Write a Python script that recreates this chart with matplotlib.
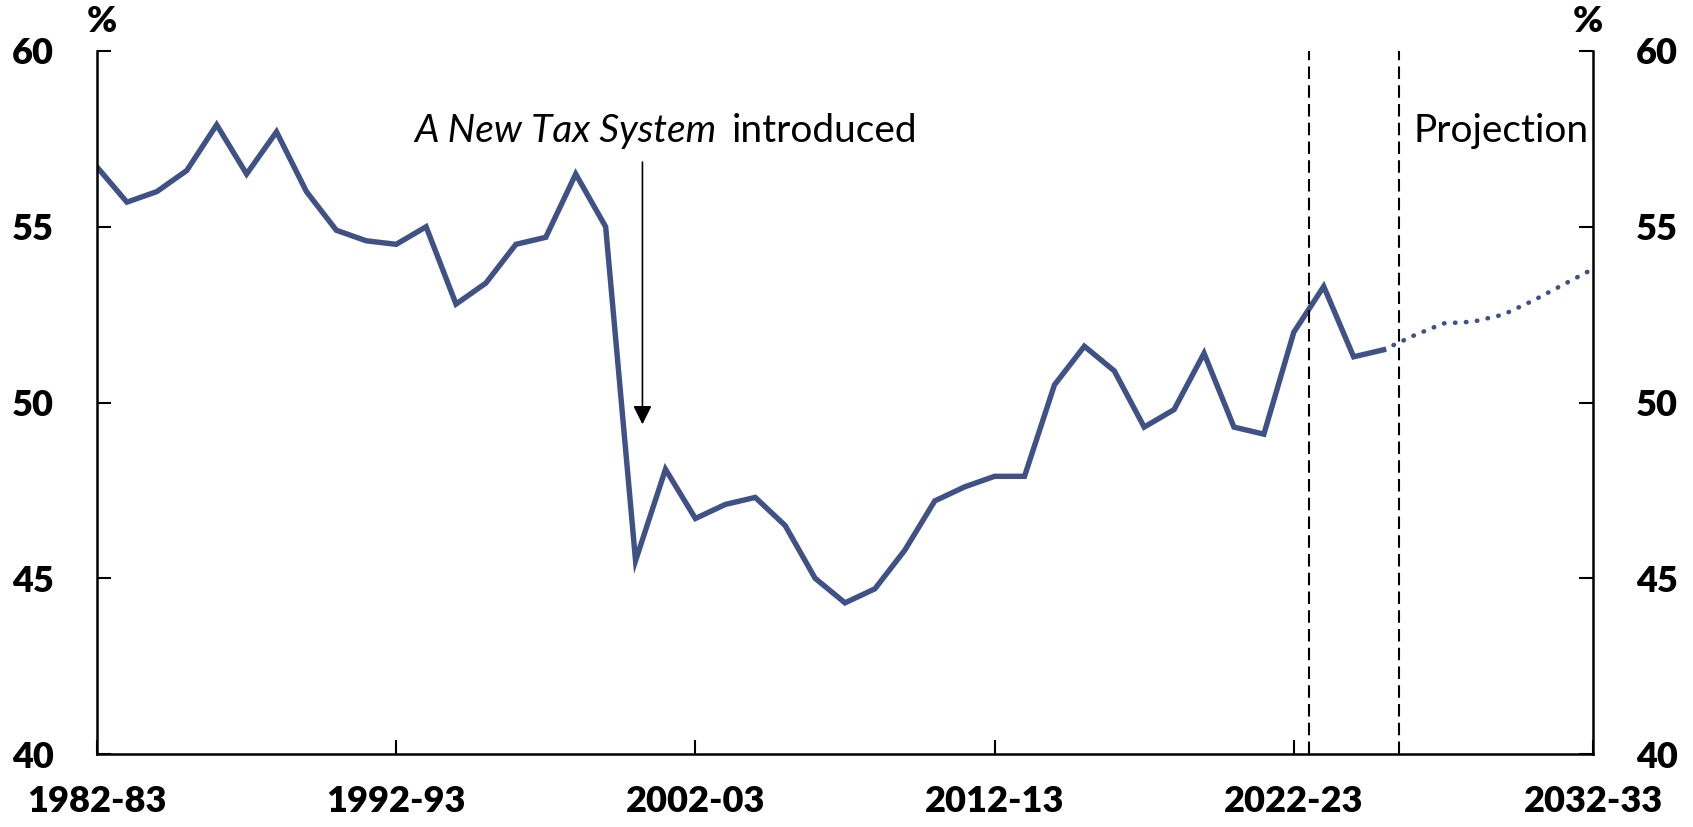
import matplotlib
matplotlib.use("Agg")
import matplotlib.pyplot as plt

plt.rcParams['font.family'] = ['Lato', 'DejaVu Sans']

# financial years, 1982-83 = 0
years = list(range(0, 44))
share = [56.7, 55.7, 56.0, 56.6, 57.9, 56.5, 57.7, 56.0, 54.9, 54.6,
         54.5, 55.0, 52.8, 53.4, 54.5, 54.7, 56.5, 55.0, 45.5, 48.1,
         46.7, 47.1, 47.3, 46.5, 45.0, 44.3, 44.7, 45.8, 47.2, 47.6,
         47.9, 47.9, 50.5, 51.6, 50.9, 49.3, 49.8, 51.4, 49.3, 49.1,
         52.0, 53.3, 51.3, 51.5]

proj_years = list(range(43, 51))
proj_share = [51.5, 51.9, 52.25, 52.3, 52.5, 52.9, 53.35, 53.8]

tick_pos = [0, 10, 20, 30, 40, 50]
tick_labels = ["1982-83", "1992-93", "2002-03", "2012-13", "2022-23", "2032-33"]
y_ticks = [40, 45, 50, 55, 60]
vlines = [40.5, 43.5]

line_color = "#3F5185"
bold = 'heavy'

fig = plt.figure(figsize=(16.93, 8.27), dpi=100)
ax = fig.add_axes([97 / 1693, 1 - 754 / 827, 1496 / 1693, 703 / 827])

ax.plot(years, share, color=line_color, lw=3.9, solid_joinstyle='miter')
ax.plot(proj_years, proj_share, color=line_color, lw=3.3,
        linestyle=(0, (0.1, 2.3)), dash_capstyle='round')

for v in vlines:
    ax.axvline(v, color="black", lw=1.5, linestyle=(0, (6, 3)))

ax.set_xlim(0, 50)
ax.set_ylim(40, 60)
ax.set_xticks(tick_pos)
ax.set_xticklabels(tick_labels)
ax.set_yticks(y_ticks)

ax.spines['top'].set_visible(False)
for s in ['left', 'right', 'bottom']:
    ax.spines[s].set_linewidth(1.8)

ax.tick_params(axis='x', direction='in', length=10, width=1.5, pad=22,
               labelsize=26)
ax.tick_params(axis='y', direction='in', length=10, width=1.5, pad=31,
               labelsize=26, right=True, labelright=True)
for t in ax.xaxis.get_major_ticks():
    t.label1.set_fontweight(bold)
for t in ax.yaxis.get_major_ticks():
    t.label1.set_fontweight(bold)
    t.label2.set_fontweight(bold)

fig.text(102 / 1693, 1 - 22 / 827, "%", fontsize=26, fontweight=bold,
         ha='center', va='center')
fig.text(1588 / 1693, 1 - 22 / 827, "%", fontsize=26, fontweight=bold,
         ha='center', va='center')

# annotation
ax.text(20.72, 57.41, "A New Tax System", fontsize=28, style='italic',
        ha='right', va='baseline')
ax.text(21.2, 57.41, "introduced", fontsize=28, ha='left', va='baseline')
ax.annotate("", xy=(18.23, 49.38), xytext=(18.23, 56.84),
            arrowprops=dict(arrowstyle='-|>', color='black', lw=1.2,
                            mutation_scale=28, shrinkA=0, shrinkB=0))
ax.text(44.0, 57.41, "Projection", fontsize=28, ha='left', va='baseline')

fig.savefig("out.png", dpi=100)
